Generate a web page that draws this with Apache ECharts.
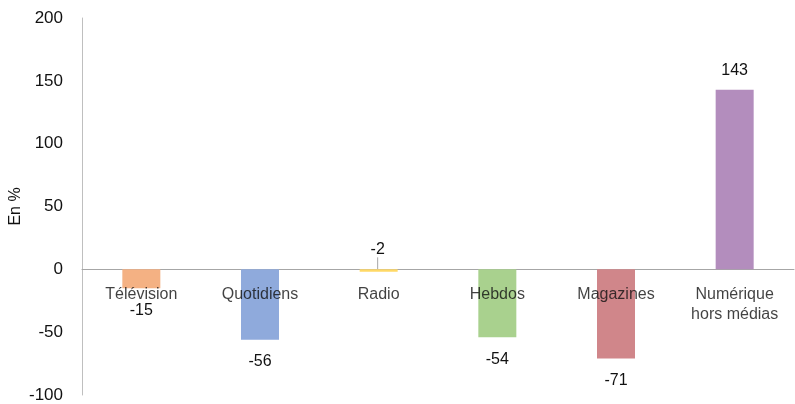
<!DOCTYPE html>
<html>
<head>
<meta charset="utf-8">
<script src="https://cdn.jsdelivr.net/npm/echarts@6/dist/echarts.min.js"></script>
<style>
  html, body { margin: 0; padding: 0; background: #fff; }
  #chart { width: 795px; height: 404px; }
</style>
</head>
<body>
<div id="chart"></div>
<script>
// données
const categories = ["Télévision", "Quotidiens", "Radio", "Hebdos", "Magazines", "Numérique\nhors médias"];
const values = [-15, -56, -2, -54, -71, 143];
const yTicks = { min: -100, max: 200, interval: 50 };

// couleurs des barres
const palette = ["#f4b183", "#8faadc", "#ffd966", "#a9d18e", "#d0868a", "#b38dbd"];

const font = "Liberation Sans, Arial, sans-serif";

const barData = values.map(function (v, i) {
  const item = { value: v, itemStyle: { color: palette[i] } };
  if (categories[i] === "Radio") {
    // petite étiquette avec trait de rappel
    item.label = { position: "top", distance: 4 };
    item.labelLine = { show: true, lineStyle: { color: "#a6a6a6", width: 1 } };
  } else if (v < 0) {
    item.label = { position: "bottom", distance: 14 };
  } else {
    item.label = { position: "top", distance: 11 };
  }
  return item;
});

// les noms de catégories suivent la ligne du zéro
const baseline = categories.map(function (c) { return [c, 0]; });

const option = {
  animation: false,
  grid: { left: 82, right: 1, top: 18, bottom: 9, containLabel: false, outerBoundsMode: "none" },
  xAxis: {
    type: "category",
    data: categories,
    axisLine: { onZero: true, lineStyle: { color: "#a6a6a6", width: 1 } },
    axisTick: { show: false },
    axisLabel: { show: false },
    splitLine: { show: false }
  },
  yAxis: {
    type: "value",
    min: yTicks.min,
    max: yTicks.max,
    interval: yTicks.interval,
    name: "En %",
    nameLocation: "middle",
    nameGap: 58,
    nameMoveOverlap: false,
    nameRotate: 90,
    nameTextStyle: { color: "#111", fontFamily: font, fontSize: 16 },
    axisLine: { show: true, lineStyle: { color: "#bfbfbf", width: 1 } },
    axisTick: { show: false },
    axisLabel: { color: "#111", fontFamily: font, fontSize: 17, margin: 19 },
    splitLine: { show: false }
  },
  series: [
    {
      type: "bar",
      data: barData,
      barWidth: 38,
      label: {
        show: true,
        color: "#111",
        fontFamily: font,
        fontSize: 16
      },
      labelLayout: function (p) {
        return p.dataIndex === 2 ? { dy: -8, dx: -1 } : {};
      }
    },
    {
      type: "scatter",
      data: baseline,
      symbolSize: 0,
      silent: true,
      z: 5,
      label: {
        show: true,
        position: "bottom",
        distance: 15,
        color: "#111",
        fontFamily: font,
        fontSize: 16,
        lineHeight: 20,
        align: "center",
        formatter: function (p) { return p.value[0]; }
      }
    }
  ]
};

echarts.init(document.getElementById("chart")).setOption(option);
</script>
</body>
</html>
